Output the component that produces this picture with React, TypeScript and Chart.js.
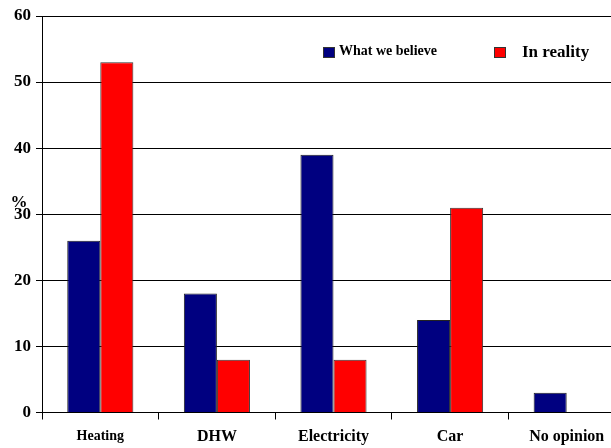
import React, { useEffect, useRef } from "react";
import { Chart, registerables } from "chart.js";

Chart.register(...registerables);

const categories = ["Heating", "DHW", "Electricity", "Car", "No opinion"];
const believeValues = [26, 18, 39, 14, 3];
const realityValues: (number | null)[] = [53, 8, 8, 31, null];
const seriesNames = ["What we believe", "In reality"];
const yTicks = [0, 10, 20, 30, 40, 50, 60];

const SERIF = '"Liberation Serif", "Times New Roman", serif';

// Draws the "%" unit label and the in-plot legend
const overlayPlugin = {
  id: "overlay",
  afterDraw(chart: any) {
    const { ctx } = chart;
    const y = chart.scales.y;
    ctx.save();
    ctx.fillStyle = "#000";
    ctx.font = `bold 17px ${SERIF}`;
    ctx.textAlign = "center";
    ctx.textBaseline = "middle";
    ctx.fillText("%", 19, y.getPixelForValue(30) - 12);

    const ds = chart.data.datasets;
    const items = [
      { x: 323, size: 14, tx: 339, ty: 51 },
      { x: 494, size: 17, tx: 522, ty: 53 },
    ];
    items.forEach((it, i) => {
      ctx.fillStyle = ds[i].backgroundColor;
      ctx.fillRect(it.x, 47, 12, 11);
      ctx.strokeStyle = "#333";
      ctx.lineWidth = 1;
      ctx.strokeRect(it.x + 0.5, 47.5, 11, 10);
      ctx.fillStyle = "#000";
      ctx.font = `bold ${it.size}px ${SERIF}`;
      ctx.textAlign = "left";
      ctx.textBaseline = "middle";
      ctx.fillText(ds[i].label, it.tx, it.ty);
    });
    ctx.restore();
  },
};

export default function App() {
  const ref = useRef<HTMLCanvasElement>(null);

  useEffect(() => {
    if (!ref.current) return;
    const chart = new Chart(ref.current, {
      type: "bar",
      data: {
        labels: categories,
        datasets: [
          {
            label: seriesNames[0],
            data: believeValues,
            backgroundColor: "#000080",
            borderColor: "#222",
            borderWidth: 1,
          },
          {
            label: seriesNames[1],
            data: realityValues,
            backgroundColor: "#FF0000",
            borderColor: "#333",
            borderWidth: 1,
          },
        ],
      },
      options: {
        animation: false,
        responsive: false,
        maintainAspectRatio: false,
        layout: { padding: { top: 16, right: 0, bottom: 0, left: 0 } },
        plugins: {
          legend: { display: false },
          tooltip: { enabled: false },
        },
        datasets: {
          bar: { categoryPercentage: 0.567, barPercentage: 1.0 },
        },
        scales: {
          x: {
            grid: {
              offset: true,
              drawOnChartArea: false,
              drawTicks: true,
              tickLength: 7,
              color: "#000",
            },
            border: { color: "#000", width: 1 },
            ticks: {
              color: "#000",
              padding: 8,
              font: (c: any) => ({
                family: SERIF,
                weight: "bold",
                size: c.index === 0 ? 14 : 16,
              }),
            },
            afterFit: (s: any) => {
              s.height = 35.5;
            },
          },
          y: {
            min: 0,
            max: 60,
            afterBuildTicks: (s: any) => {
              s.ticks = yTicks.map((v) => ({ value: v }));
            },
            grid: { color: "#000", tickLength: 6, lineWidth: 1 },
            border: { color: "#000", width: 1 },
            ticks: {
              color: "#000",
              padding: 5,
              font: { family: SERIF, weight: "bold", size: 17 },
            },
            afterFit: (s: any) => {
              s.width = 42;
            },
          },
        },
      },
      plugins: [overlayPlugin],
    });
    return () => chart.destroy();
  }, []);

  return (
    <div
      style={{
        position: "fixed",
        left: 0,
        top: 0,
        width: 611,
        height: 448,
        overflow: "hidden",
        background: "#fff",
      }}
    >
      <canvas ref={ref} width={625} height={448} style={{ display: "block" }} />
    </div>
  );
}
